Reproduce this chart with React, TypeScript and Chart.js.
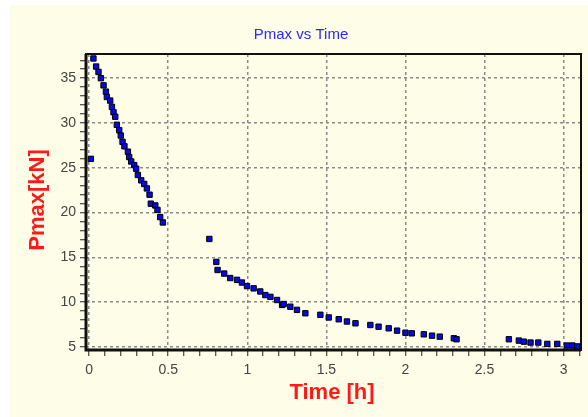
import React, { useEffect, useRef } from "react";
import { Chart, registerables } from "chart.js";

Chart.register(...registerables);

const chartTitle = "Pmax vs Time";
const xTitle = "Time [h]";
const yTitle = "Pmax[kN]";

const timeH = [
  0.011, 0.027, 0.044, 0.059, 0.074, 0.091, 0.106, 0.112, 0.133, 0.144, 0.154, 0.165, 0.175, 0.19, 0.2,
  0.211, 0.223, 0.245, 0.253, 0.266, 0.285, 0.297, 0.308, 0.329, 0.348, 0.365, 0.382, 0.39, 0.418, 0.432,
  0.449, 0.466,
  0.76, 0.804, 0.812, 0.854, 0.892, 0.935, 0.966, 0.998, 1.04, 1.082, 1.114, 1.146, 1.188, 1.22, 1.23,
  1.272, 1.314, 1.367, 1.462, 1.515, 1.578, 1.63, 1.684, 1.778, 1.83, 1.894, 1.947, 2.0, 2.04, 2.116,
  2.168, 2.217, 2.306, 2.323, 2.654, 2.717, 2.749, 2.791, 2.84, 2.897, 2.96, 3.02, 3.055, 3.086,
];
const pmaxKN = [
  26.0, 37.2, 36.3, 35.7, 35.0, 34.2, 33.5, 32.9, 32.5, 31.8, 31.2, 30.7, 29.8, 29.2, 28.6,
  27.9, 27.4, 26.8, 26.2, 25.7, 25.3, 24.9, 24.2, 23.6, 23.2, 22.7, 22.0, 21.0, 20.8, 20.3,
  19.5, 18.9,
  17.06, 14.5, 13.6, 13.2, 12.7, 12.5, 12.2, 11.8, 11.55, 11.2, 10.8, 10.6, 10.25, 9.7, 9.8,
  9.5, 9.15, 8.77, 8.6, 8.3, 8.1, 7.85, 7.65, 7.46, 7.27, 7.09, 6.83, 6.6, 6.53, 6.42,
  6.27, 6.16, 5.98, 5.87, 5.87, 5.72, 5.6, 5.5, 5.5, 5.35, 5.35, 5.17, 5.17, 5.07,
];

const xTickValues = Array.from({ length: 32 }, (_, i) => i / 10);
const yTickValues = Array.from({ length: 33 }, (_, i) => 5 + i);

const xMajor = (v: number) => Math.abs(v * 2 - Math.round(v * 2)) < 1e-6;
const yMajor = (v: number) => Math.abs(v / 5 - Math.round(v / 5)) < 1e-6;

export default function App() {
  const ref = useRef<HTMLCanvasElement>(null);

  useEffect(() => {
    if (!ref.current) return;
    const bgPlugin = {
      id: "bg",
      beforeDraw(chart: any) {
        const ctx = chart.ctx;
        ctx.save();
        ctx.fillStyle = "#ffffff";
        ctx.fillRect(0, 0, chart.width, chart.height);
        ctx.fillStyle = "#fefee8";
        ctx.fillRect(10, 5, chart.width - 10, chart.height - 5);
        ctx.restore();
      },
      beforeDatasetsDraw(chart: any) {
        const { ctx, chartArea: a } = chart;
        ctx.save();
        ctx.strokeStyle = "#111";
        ctx.lineWidth = 2;
        ctx.strokeRect(a.left, a.top, a.right - a.left, a.bottom - a.top);
        ctx.lineWidth = 3;
        ctx.beginPath();
        ctx.moveTo(a.left, a.top);
        ctx.lineTo(a.left, a.bottom);
        ctx.lineTo(a.right, a.bottom);
        ctx.stroke();
        ctx.restore();
      },
      afterDraw(chart: any) {
        const ctx = chart.ctx;
        ctx.save();
        ctx.fillStyle = "#2a2aff";
        ctx.font = "15px 'Liberation Sans', Arial, sans-serif";
        ctx.textAlign = "center";
        ctx.textBaseline = "middle";
        ctx.fillText(chartTitle, 301, 35);
        ctx.fillStyle = "#ff1a1a";
        ctx.font = "bold 22px 'Liberation Sans', Arial, sans-serif";
        ctx.fillText(xTitle, 332, 393);
        ctx.translate(38, 200);
        ctx.rotate(-Math.PI / 2);
        ctx.fillText(yTitle, 0, 0);
        ctx.restore();
      },
    };

    const chart = new Chart(ref.current, {
      type: "scatter",
      data: {
        datasets: [
          {
            data: timeH.map((t, i) => ({ x: t, y: pmaxKN[i] })),
            pointStyle: "rect",
            pointRadius: 3.8,
            backgroundColor: "#0808e0",
            borderColor: "#000",
            borderWidth: 1,
          },
        ],
      },
      options: {
        animation: false,
        responsive: false,
        devicePixelRatio: 1,
        layout: { padding: { top: 54, right: 7, left: 0, bottom: 0 } },
        plugins: { legend: { display: false }, tooltip: { enabled: false }, title: { display: false } },
        scales: {
          x: {
            type: "linear",
            min: -0.02,
            max: 3.11,
            afterBuildTicks: (s: any) => {
              s.ticks = xTickValues.map((v) => ({ value: v }));
            },
            afterFit: (s: any) => {
              s.height = 67;
            },
            border: { display: false, dash: [3, 3] },
            grid: {
              color: (c: any) => (c.tick && xMajor(c.tick.value) ? "#8a8a8a" : "rgba(0,0,0,0)"),
              tickColor: "#222",
              lineWidth: 1.5,
              tickBorderDash: [],
              tickLength: 6,
              tickWidth: 1,
            },
            ticks: {
              autoSkip: false,
              maxRotation: 0,
              padding: 6,
              color: "#444",
              font: { family: "'Liberation Sans', Arial, sans-serif", size: 14 },
              callback: (v: any) => (xMajor(Number(v)) ? String(Math.round(Number(v) * 10) / 10) : ""),
            },
          },
          y: {
            type: "linear",
            min: 4.67,
            max: 37.7,
            afterBuildTicks: (s: any) => {
              s.ticks = yTickValues.map((v) => ({ value: v }));
            },
            afterFit: (s: any) => {
              s.width = 86;
            },
            border: { display: false, dash: [3, 3] },
            grid: {
              color: (c: any) => (c.tick && yMajor(c.tick.value) ? "#8a8a8a" : "rgba(0,0,0,0)"),
              tickColor: "#222",
              lineWidth: 1.5,
              tickBorderDash: [],
              tickLength: 6,
              tickWidth: 1,
            },
            ticks: {
              autoSkip: false,
              padding: 4,
              color: "#444",
              font: { family: "'Liberation Sans', Arial, sans-serif", size: 14 },
              callback: (v: any) => (yMajor(Number(v)) ? String(Math.round(Number(v))) : ""),
            },
          },
        },
      },
      plugins: [bgPlugin],
    } as any);
    return () => chart.destroy();
  }, []);

  return (
    <div style={{ position: "fixed", left: 0, top: 0, width: 588, height: 417 }}>
      <canvas ref={ref} width={588} height={417} style={{ width: 588, height: 417, display: "block" }} />
    </div>
  );
}
